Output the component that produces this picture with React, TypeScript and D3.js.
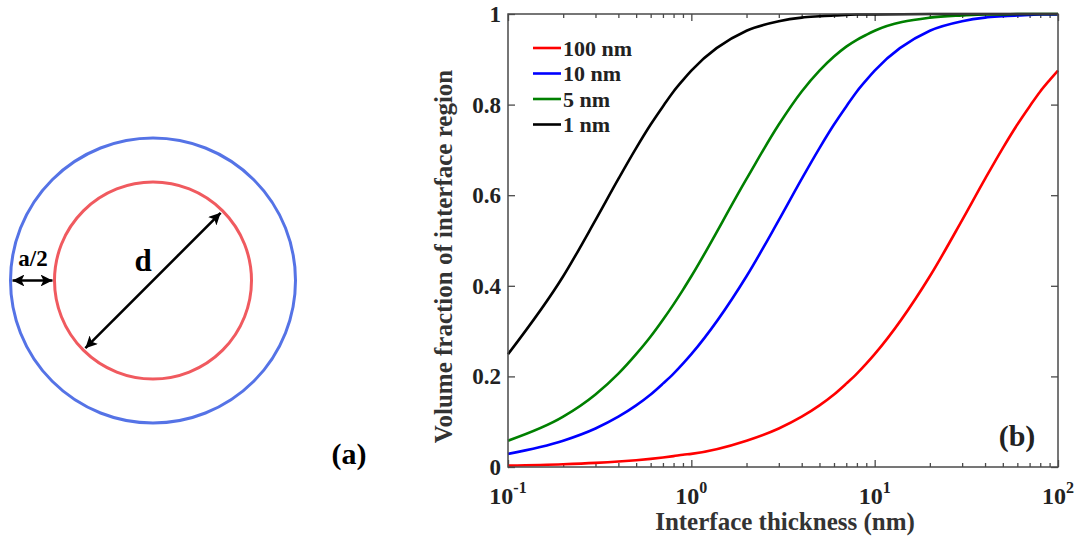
import React, { useEffect, useRef } from "react";
import * as d3 from "d3";

const thickness = [0.1, 0.2, 0.3, 0.4, 0.5, 0.6, 0.7, 0.8, 0.9, 1, 2, 3, 4, 5, 6, 7, 8, 9, 10, 20, 30, 40, 50, 60, 70, 80, 90, 100];
const frac100 = [0.003, 0.006, 0.009, 0.012, 0.015, 0.018, 0.021, 0.024, 0.027, 0.029, 0.058, 0.085, 0.111, 0.136, 0.160, 0.184, 0.206, 0.228, 0.249, 0.421, 0.545, 0.636, 0.704, 0.756, 0.796, 0.829, 0.854, 0.875];
const frac10 = [0.029, 0.058, 0.085, 0.111, 0.136, 0.160, 0.184, 0.206, 0.228, 0.249, 0.421, 0.545, 0.636, 0.704, 0.756, 0.796, 0.829, 0.854, 0.875, 0.963, 0.984, 0.992, 0.995, 0.997, 0.998, 0.999, 0.999, 0.999];
const frac5 = [0.058, 0.111, 0.160, 0.206, 0.249, 0.288, 0.325, 0.359, 0.391, 0.421, 0.636, 0.756, 0.829, 0.875, 0.906, 0.928, 0.943, 0.954, 0.963, 0.992, 0.997, 0.999, 0.999, 1.0, 1.0, 1.0, 1.0, 1.0];
const frac1 = [0.249, 0.421, 0.545, 0.636, 0.704, 0.756, 0.796, 0.829, 0.854, 0.875, 0.963, 0.984, 0.992, 0.995, 0.997, 0.998, 0.999, 0.999, 0.999, 1.0, 1.0, 1.0, 1.0, 1.0, 1.0, 1.0, 1.0, 1.0];

const seriesNames = ["100 nm", "10 nm", "5 nm", "1 nm"];
const seriesColors = ["#ff0000", "#0000ff", "#008000", "#000000"];
const seriesValues = [frac100, frac10, frac5, frac1];

const xMajorTicks = [0.1, 1, 10, 100];
const xMajorExp = ["-1", "0", "1", "2"];
const yTicks = [0, 0.2, 0.4, 0.6, 0.8, 1];
const yTickLabels = ["0", "0.2", "0.4", "0.6", "0.8", "1"];

const FONT = "'Liberation Serif', 'Times New Roman', serif";
const AX = "#4a4a4a";

const L = 508, R = 1058, T = 14, B = 467;

export default function App() {
  const axRef = useRef<SVGGElement>(null);
  const x = d3.scaleLog().domain([0.1, 100]).range([L, R]);
  const y = d3.scaleLinear().domain([0, 1]).range([B, T]);
  const minor: number[] = x.ticks().filter((t) => !xMajorTicks.some((m) => Math.abs(m - t) < 1e-9));

  useEffect(() => {
    const g = d3.select(axRef.current);
    g.selectAll("*").remove();
    const add = (axis: any, tr: string) => {
      const s = g.append("g").attr("transform", tr).call(axis);
      s.select(".domain").remove();
      s.selectAll("text").remove();
      s.selectAll("line").attr("stroke", AX).attr("stroke-width", 1.3);
    };
    add(d3.axisBottom(x).tickValues(xMajorTicks).tickSize(-7), `translate(0,${B})`);
    add(d3.axisBottom(x).tickValues(minor).tickSize(-4), `translate(0,${B})`);
    add(d3.axisTop(x).tickValues(xMajorTicks).tickSize(-7), `translate(0,${T})`);
    add(d3.axisTop(x).tickValues(minor).tickSize(-4), `translate(0,${T})`);
    add(d3.axisLeft(y).tickValues(yTicks).tickSize(-7), `translate(${L},0)`);
    add(d3.axisRight(y).tickValues(yTicks).tickSize(-7), `translate(${R},0)`);
  }, []);

  const line = d3
    .line<number>()
    .x((_, i) => x(thickness[i]))
    .y((v) => y(v))
    .curve(d3.curveMonotoneX);

  // diagram geometry
  const cx = 153, cy = 280.5, rOuter = 142.5, rInner = 98.5;
  const ang = (-45 * Math.PI) / 180;
  const dx = Math.cos(ang) * rInner, dy = Math.sin(ang) * rInner;

  return (
    <svg width={1078} height={540} style={{ position: "absolute", left: 0, top: 0, background: "#fff" }} fontFamily={FONT}>
      <defs>
        <marker id="ah" viewBox="0 0 10 10" refX="10" refY="5" markerWidth="4.6" markerHeight="4.6" orient="auto-start-reverse" markerUnits="strokeWidth">
          <path d="M0,0 L10,5 L0,10 L2.5,5 Z" fill="#000" />
        </marker>
      </defs>

      {/* panel (a) */}
      <circle cx={cx} cy={cy} r={rOuter} fill="none" stroke="#5573e6" strokeWidth={3} />
      <circle cx={cx} cy={cy} r={rInner} fill="none" stroke="#f05a5f" strokeWidth={3} />
      <line x1={cx - dx + 2} y1={cy - dy - 2} x2={cx + dx - 2} y2={cy + dy + 2} stroke="#000" strokeWidth={2.6} markerStart="url(#ah)" markerEnd="url(#ah)" />
      <line x1={cx - rOuter + 2} y1={cy} x2={cx - rInner - 2} y2={cy} stroke="#000" strokeWidth={2.6} markerStart="url(#ah)" markerEnd="url(#ah)" />
      <text x={143} y={271} fontSize={31} fontWeight="bold" textAnchor="middle">d</text>
      <text x={33} y={266} fontSize={23} fontWeight="bold" textAnchor="middle">a/2</text>
      <text x={349} y={464} fontSize={30} fontWeight="bold" textAnchor="middle">(a)</text>

      {/* panel (b) */}
      <g ref={axRef} />
      {seriesValues.map((vals, i) => (
        <path key={seriesNames[i]} d={line(vals) || ""} fill="none" stroke={seriesColors[i]} strokeWidth={2.6} strokeLinejoin="round" />
      ))}
      <rect x={L} y={T} width={R - L} height={B - T} fill="none" stroke={AX} strokeWidth={1.5} />

      {yTicks.map((t, i) => (
        <text key={t} x={L - 7} y={y(t)} dy="0.35em" fontSize={23} fontWeight="bold" textAnchor="end" fill="#222">{yTickLabels[i]}</text>
      ))}
      {xMajorTicks.map((t, i) => (
        <text key={t} x={x(t)} y={504} fontSize={24} fontWeight="bold" textAnchor="middle" fill="#222">
          10<tspan fontSize={16} dy={-11}>{xMajorExp[i]}</tspan>
        </text>
      ))}
      <text x={(L + R) / 2 + 2} y={530} fontSize={25} fontWeight="bold" textAnchor="middle" fill="#333">Interface thickness (nm)</text>
      <text transform={`translate(452,${(T + B) / 2 + 16}) rotate(-90)`} fontSize={25} fontWeight="bold" textAnchor="middle" fill="#333">Volume fraction of interface region</text>

      {seriesNames.map((n, i) => (
        <g key={n} transform={`translate(533,${48 + i * 25.5})`}>
          <line x1={0} x2={28} y1={0} y2={0} stroke={seriesColors[i]} strokeWidth={2.6} />
          <text x={30} y={0} dy="0.35em" fontSize={22} fontWeight="bold" fill="#222">{n}</text>
        </g>
      ))}
      <text x={1017} y={446} fontSize={30} fontWeight="bold" textAnchor="middle" fill="#222">(b)</text>
    </svg>
  );
}
